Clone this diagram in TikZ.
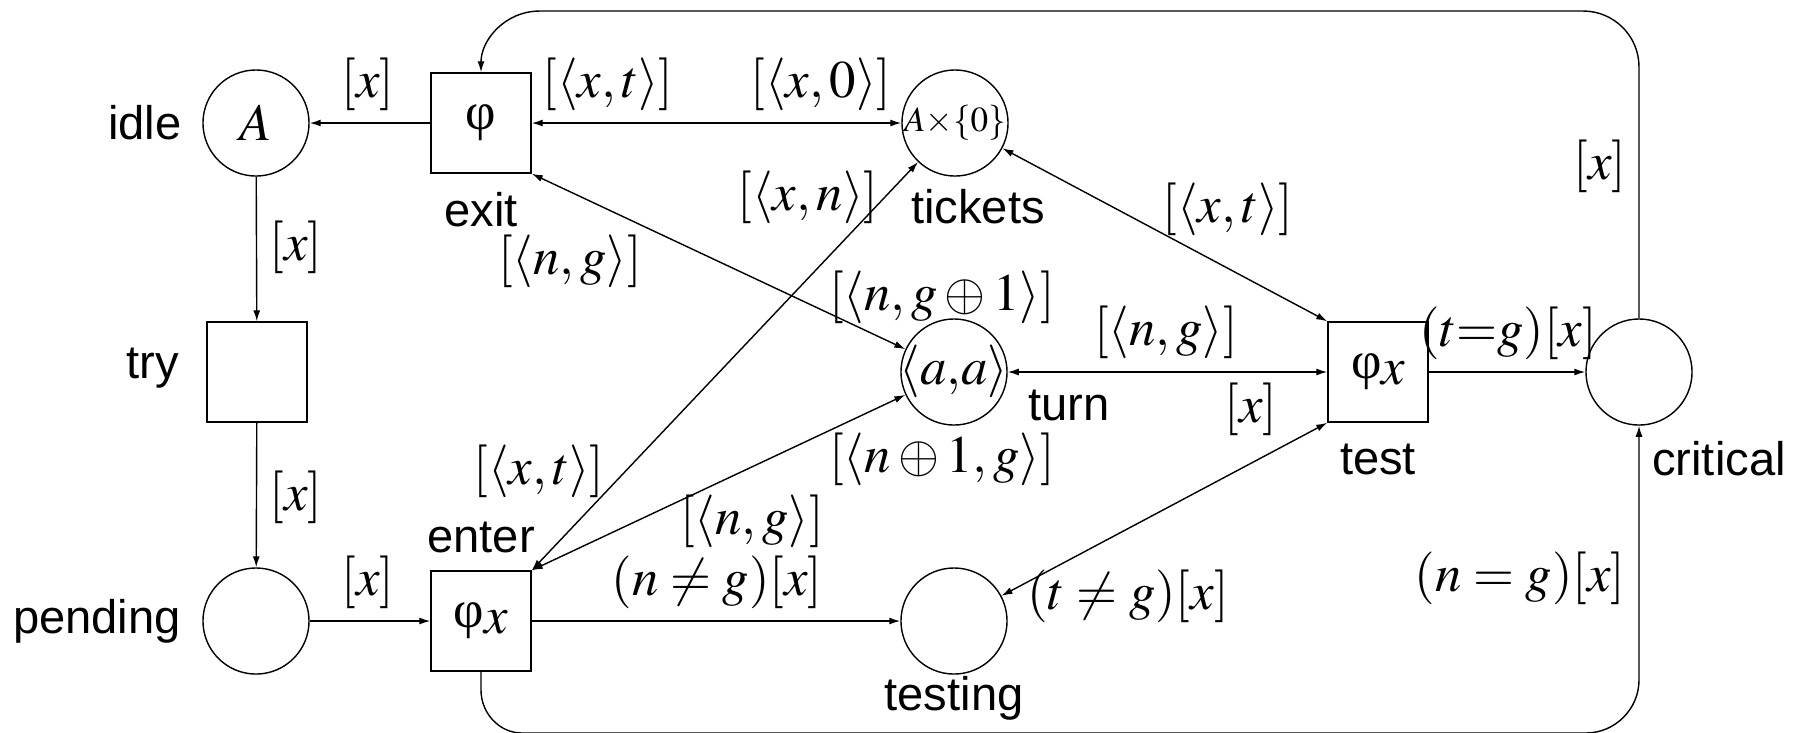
\documentclass[tikz,border=0pt]{standalone}
\usepackage{mathptmx}
\usepackage[no-math]{fontspec}
\setsansfont{Liberation Sans}
\newfontfamily\phifont{Liberation Serif}
\usetikzlibrary{arrows.meta}
\tikzset{
  place/.style={circle, draw, minimum size=1.06cm, inner sep=0pt, line width=0.4pt},
  trans/.style={rectangle, draw, minimum size=1cm, inner sep=0pt, line width=0.4pt, font=\fontsize{15}{16}\selectfont},
  lbl/.style={font=\sffamily\fontsize{13.4}{14}\selectfont, inner sep=0pt},
  mlbl/.style={font=\fontsize{15}{16}\selectfont, inner sep=0pt},
  arr/.style={line width=0.4pt, -{Latex[length=1.1mm,width=0.7mm]}},
  darr/.style={line width=0.4pt, {Latex[length=1.1mm,width=0.7mm]}-{Latex[length=1.1mm,width=0.7mm]}}
}
\begin{document}
\begin{tikzpicture}[x=0.01cm,y=-0.01cm]
\useasboundingbox (0,0) rectangle (1800,732);
% places
\node[place] (idle) at (256,123) {\fontsize{15}{16}\selectfont$A$};
\node[place] (tickets) at (955,123) {\makebox[0pt]{\fontsize{10}{11}\selectfont$A{\times}\{0\}$}};
\node[place] (turn) at (954,372) {\makebox[0pt]{\fontsize{15}{16}\selectfont$\langle a,\!a\rangle$}};
\node[place] (critical) at (1639,372) {};
\node[place] (pending) at (256,621) {};
\node[place] (testing) at (954,621) {};
% transitions
\node[trans] (exit) at (481,123) {\phifont φ};
\node[trans] (try) at (257,372) {};
\node[trans] (test) at (1378,372) {{\phifont φ}\raisebox{-0.25ex}{$x$}};
\node[trans] (enter) at (481,621) {{\phifont φ}\raisebox{-0.25ex}{$x$}};
% names
\node[lbl] (lidle) at (145,123) {idle};
\node[lbl] (lexit) at (481,210) {exit};
\node[lbl] (ltickets) at (978,207) {tickets};
\node[lbl] (ltry) at (153,368) {try};
\node[lbl] (lturn) at (1069,405) {turn};
\node[lbl] (ltest) at (1378,459) {test};
\node[lbl] (lcritical) at (1719,459) {critical};
\node[lbl] (lenter) at (481,537) {enter};
\node[lbl] (lpending) at (97,621) {pending};
\node[lbl] (ltesting) at (954,698) {testing};
% arcs
\draw[arr] (exit) -- (idle);
\draw[arr] (idle) -- (try);
\draw[arr] (try) -- (pending);
\draw[arr] (pending) -- (enter);
\draw[arr] (enter) -- (testing);
\draw[arr] (test) -- (critical);
\draw[darr] (exit) -- (tickets);
\draw[darr] (turn) -- (test);
\draw[darr] (exit.south east) -- (turn);
\draw[darr] (enter.north east) -- (tickets);
\draw[darr] (enter.north east) -- (turn);
\draw[darr] (test.north west) -- (tickets);
\draw[darr] (test.south west) -- (testing);
\draw[arr] (critical.north) -- (1639,67) .. controls (1639,36) and (1614,11) .. (1583,11)
  -- (540,11) .. controls (505,11) and (481,40) .. (exit.north);
\draw[arr] (enter.south) -- (481,690) .. controls (481,713) and (499,733) .. (522,733)
  -- (1586,733) .. controls (1615,733) and (1639,709) .. (1639,680) -- (critical.south);
% arc inscriptions
\node[mlbl] (m1) at (368,84) {$[x]$};
\node[mlbl] (m2) at (608,84) {$[\langle x,t\rangle]$};
\node[mlbl] (m3) at (821,84) {$[\langle x,0\rangle]$};
\node[mlbl] (m4) at (808,197) {$[\langle x,n\rangle]$};
\node[mlbl] (m5) at (570,261) {$[\langle n,g\rangle]$};
\node[mlbl] (m6) at (1228,209) {$[\langle x,t\rangle]$};
\node[mlbl] (m7) at (1600,166) {$[x]$};
\node[mlbl] (m8) at (296,247) {$[x]$};
\node[mlbl] (m9) at (942,297) {$[\langle n,g\oplus 1\rangle]$};
\node[mlbl] (m10) at (1166,332) {$[\langle n,g\rangle]$};
\node[mlbl] (m11) at (1508,333) {$(t{=}g)[x]$};
\node[mlbl] (m12) at (1251,409) {$[x]$};
\node[mlbl] (m13) at (942,459) {$[\langle n\oplus 1,g\rangle]$};
\node[mlbl] (m14) at (539,471) {$[\langle x,t\rangle]$};
\node[mlbl] (m15) at (296,497) {$[x]$};
\node[mlbl] (m16) at (752,521) {$[\langle n,g\rangle]$};
\node[mlbl] (m17) at (717,582) {$(n\neq g)[x]$};
\node[mlbl] (m18) at (368,582) {$[x]$};
\node[mlbl] (m19) at (1128,596) {$(t\neq g)[x]$};
\node[mlbl] (m20) at (1520,578) {$(n=g)[x]$};
\end{tikzpicture}
\end{document}
